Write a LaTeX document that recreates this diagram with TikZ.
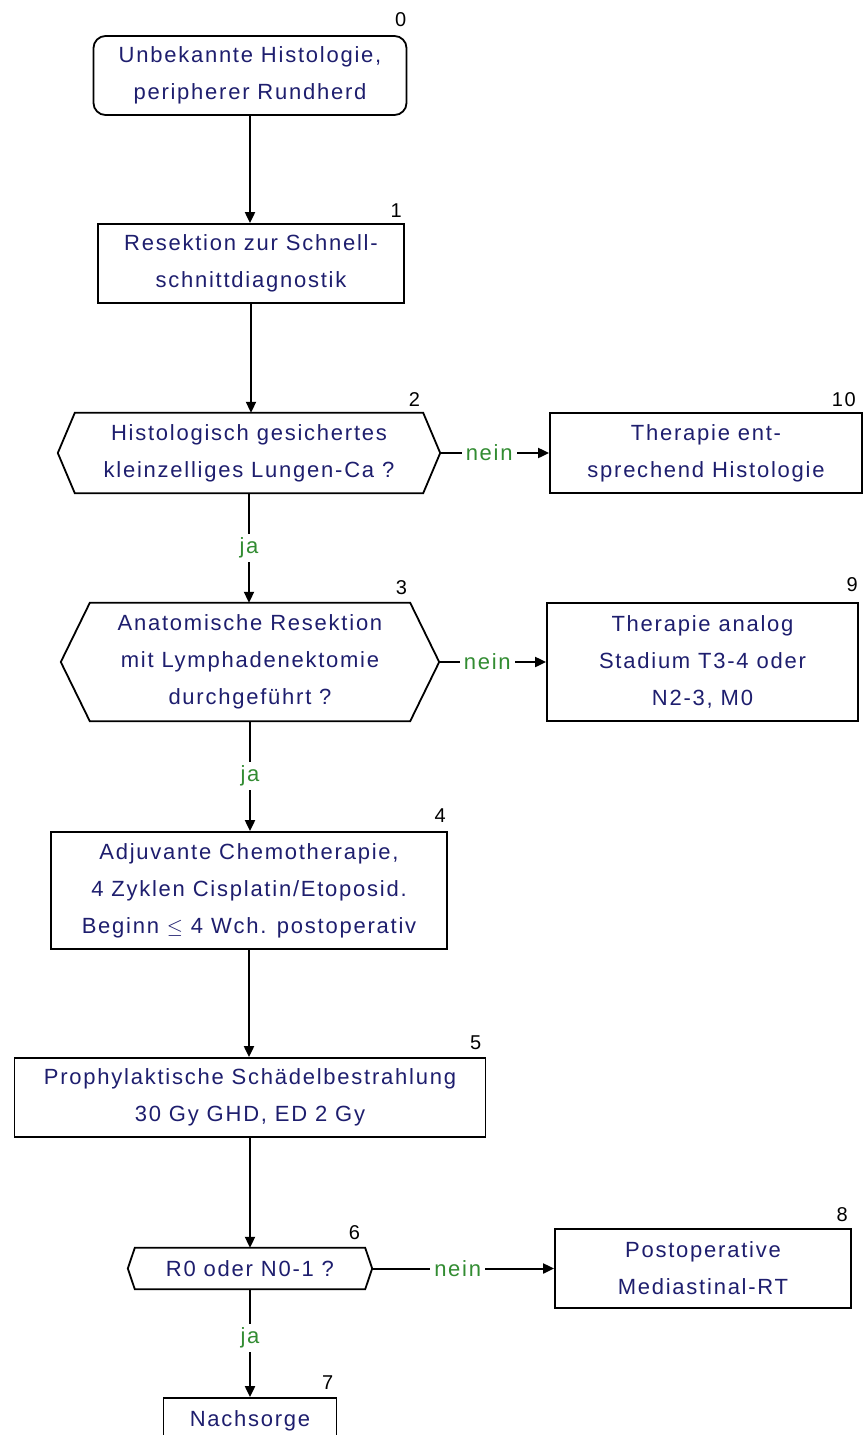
\documentclass[tikz,border=0pt]{standalone}
\usepackage{fontspec}
\setmainfont{Liberation Sans}[LetterSpace=8]
\usetikzlibrary{arrows.meta}
\definecolor{txt}{RGB}{30,30,110}
\definecolor{yes}{RGB}{50,140,50}
\begin{document}
\begin{tikzpicture}[x=1pt,y=-1pt,
  box/.style={draw, line width=1.8pt, text=txt, align=center, font=\fontsize{22}{37}\selectfont, inner sep=0pt},
  hexbox/.style={text=txt, align=center, font=\fontsize{22}{37}\selectfont, inner sep=0pt},
  hexline/.style={line width=1.8pt},
  num/.style={font=\fontsize{20}{20}\selectfont, anchor=base east, inner sep=0pt},
  lab/.style={text=yes, fill=white, font=\fontsize{22}{24}\selectfont, inner sep=4pt},
  arr/.style={line width=2pt, -{Triangle[length=11pt,width=10pt]}}
]
\path[use as bounding box] (0,0) rectangle (865,1435);
\clip (0,0) rectangle (865,1435);
\fill[white] (0,0) rectangle (865,1435);

% nodes
\node[box, rounded corners=12pt, minimum width=313pt, minimum height=79pt] (n0) at (250,75.5) {Unbekannte Histologie,\\peripherer Rundherd};
\node[box, minimum width=306pt, minimum height=79pt] (n1) at (251,263.5) {Resektion zur Schnell-\\schnittdiagnostik};
\node[hexbox, minimum width=348pt, minimum height=80pt] (n2) at (249,453) {Histologisch gesichertes\\kleinzelliges Lungen-Ca ?};
\node[box, minimum width=312pt, minimum height=80pt] (n10) at (706,453) {Therapie ent-\\sprechend Histologie};
\node[hexbox, minimum width=320pt, minimum height=118pt] (n3) at (250,662) {Anatomische Resektion\\mit Lymphadenektomie\\durchgeführt ?};
\node[box, minimum width=311pt, minimum height=118pt] (n9) at (702.5,662) {Therapie analog\\Stadium T3-4 oder\\N2-3, M0};
\node[box, minimum width=396pt, minimum height=117pt] (n4) at (249,890.5) {Adjuvante Chemotherapie,\\4 Zyklen Cisplatin/Etoposid.\\Beginn \(\leq\) 4 Wch. postoperativ};
\node[box, minimum width=471pt, minimum height=79pt] (n5) at (250,1097.5) {Prophylaktische Schädelbestrahlung\\30 Gy GHD, ED 2 Gy};
\node[hexbox, minimum width=230pt, minimum height=41pt] (n6) at (250,1268.5) {R0 oder N0-1 ?};
\node[box, minimum width=296pt, minimum height=79pt] (n8) at (703,1268.5) {Postoperative\\Mediastinal-RT};
\node[box, minimum width=173pt, minimum height=46pt] (n7) at (250,1421) {Nachsorge};

% hexagon outlines
\coordinate (n2l) at ([xshift=-17pt]n2.west);
\coordinate (n2r) at ([xshift=17pt]n2.east);
\draw[hexline] (n2.north west) -- (n2.north east) -- (n2r) -- (n2.south east) -- (n2.south west) -- (n2l) -- cycle;
\coordinate (n3l) at ([xshift=-29pt]n3.west);
\coordinate (n3r) at ([xshift=29pt]n3.east);
\draw[hexline] (n3.north west) -- (n3.north east) -- (n3r) -- (n3.south east) -- (n3.south west) -- (n3l) -- cycle;
\coordinate (n6l) at ([xshift=-7pt]n6.west);
\coordinate (n6r) at ([xshift=7pt]n6.east);
\draw[hexline] (n6.north west) -- (n6.north east) -- (n6r) -- (n6.south east) -- (n6.south west) -- (n6l) -- cycle;

% numbers
\node[num] (l0) at ([xshift=-1pt,yshift=9pt]n0.north east) {0};
\node[num] (l1) at ([xshift=-3pt,yshift=6pt]n1.north east) {1};
\node[num] (l2) at ([xshift=-3pt,yshift=6pt]n2.north east) {2};
\node[num] (l10) at ([xshift=-7pt,yshift=6pt]n10.north east) {10};
\node[num] (l3) at ([xshift=-3pt,yshift=8pt]n3.north east) {3};
\node[num] (l9) at ([xshift=-1pt,yshift=11pt]n9.north east) {9};
\node[num] (l4) at ([xshift=-2pt,yshift=9pt]n4.north east) {4};
\node[num] (l5) at ([xshift=-5pt,yshift=8pt]n5.north east) {5};
\node[num] (l6) at ([xshift=-5pt,yshift=8pt]n6.north east) {6};
\node[num] (l8) at ([xshift=-4pt,yshift=7pt]n8.north east) {8};
\node[num] (l7) at ([xshift=-4pt,yshift=8pt]n7.north east) {7};

% connectors
\draw[arr] (n0.south) -- (n0.south |- n1.north);
\draw[arr] (n1.south) -- (n1.south |- n2.north);
\draw[arr] (n2.south) -- node[lab] (j1) {ja} (n2.south |- n3.north);
\draw[arr] (n3.south) -- node[lab] (j2) {ja} (n3.south |- n4.north);
\draw[arr] (n4.south) -- (n4.south |- n5.north);
\draw[arr] (n5.south) -- (n5.south |- n6.north);
\draw[arr] (n6.south) -- node[lab, pos=0.45] (j3) {ja} (n6.south |- n7.north);
\draw[arr] (n2r) -- node[lab, pos=0.45] (e1) {nein} (n10.west |- n2r);
\draw[arr] (n3r) -- node[lab, pos=0.45] (e2) {nein} (n9.west |- n3r);
\draw[arr] (n6r) -- node[lab, pos=0.47] (e3) {nein} (n8.west |- n6r);
\end{tikzpicture}
\end{document}
